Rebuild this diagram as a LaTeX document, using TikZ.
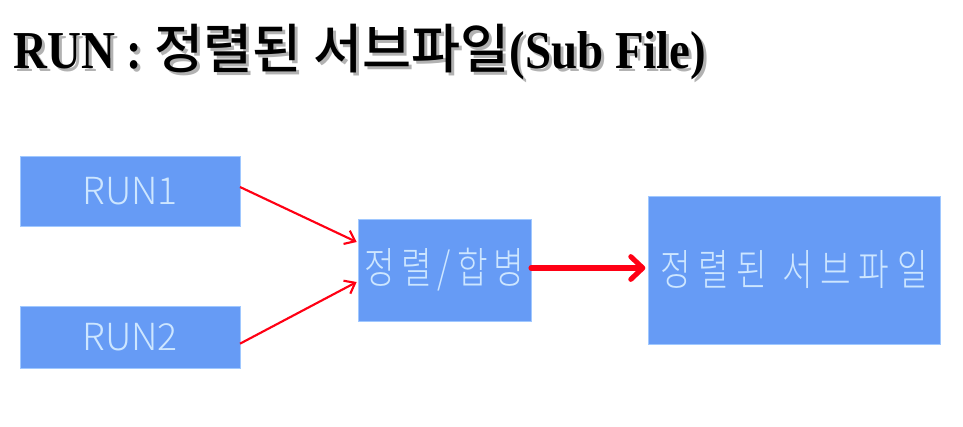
\documentclass[tikz,border=0pt]{standalone}
\usepackage{fontspec}
\setmainfont{Liberation Serif}
\newfontfamily\ttl[FakeStretch=0.88]{Liberation Serif}
\newfontfamily\krt{Noto Sans CJK KR Medium}
\newfontfamily\krbox[FakeStretch=0.78, LetterSpace=18]{Noto Sans CJK KR Light}
\newfontfamily\krboxm[FakeStretch=0.78, LetterSpace=14]{Noto Sans CJK KR Light}
\newfontfamily\latbox{Noto Sans CJK KR Light}
\usetikzlibrary{arrows.meta}
\definecolor{boxfill}{RGB}{102,155,245}
\definecolor{boxedge}{RGB}{160,200,255}
\definecolor{boxtext}{RGB}{205,230,255}
\definecolor{arrred}{RGB}{255,0,20}
\tikzset{
  blockbox/.style={draw=boxedge, line width=0.6pt, fill=boxfill, text=boxtext,
    inner sep=0pt, outer sep=0pt},
  latintext/.style={font=\latbox\fontsize{28}{32}\selectfont},
  hangultext/.style={font=\krbox\fontsize{32}{36}\selectfont},
  hangulmerge/.style={font=\krboxm\fontsize{32}{36}\selectfont},
  thinarrow/.style={draw=arrred, line width=1.6pt, -{Straight Barb[length=7pt,width=11pt,line width=1.6pt]}},
  thickarrow/.style={draw=arrred, line width=3.8pt, line cap=round, -{Straight Barb[length=9pt,width=17pt,line width=3.8pt,round]}},
  titletext/.style={font=\ttl\bfseries\fontsize{40}{44}\selectfont, anchor=base west, inner sep=0pt}
}
\begin{document}
\begin{tikzpicture}[x=0.75pt,y=-0.75pt]
\useasboundingbox (0,0) rectangle (963,426);
% title with shadow
\node[titletext, text=black!30] (titleshadow) at (16,71) {RUN : {\krt\mdseries 정렬된 서브파일}(Sub File)};
\node[titletext, text=black] (title) at (13,68) {RUN : {\krt\mdseries 정렬된 서브파일}(Sub File)};
% boxes
\node[blockbox, latintext, minimum width=220*0.75pt, minimum height=70*0.75pt] (r1) at (130,191) {RUN1};
\node[blockbox, latintext, minimum width=220*0.75pt, minimum height=62*0.75pt] (r2) at (130,337) {RUN2};
\node[blockbox, hangulmerge, minimum width=173*0.75pt, minimum height=102*0.75pt] (m) at (444.5,270) {정렬/합병};
\node[blockbox, hangultext, minimum width=292*0.75pt, minimum height=148*0.75pt] (f) at (794,270) {정렬된 서브파일};
% connectors
\draw[thinarrow] ([yshift=3pt]r1.east) -- ([yshift=21pt,xshift=-1pt]m.west);
\draw[thinarrow] ([yshift=-5pt]r2.east) -- ([yshift=-9pt,xshift=-1pt]m.west);
\draw[thickarrow] ([yshift=1.5pt]m.east) -- ([yshift=1.5pt,xshift=-2pt]f.west);
\end{tikzpicture}
\end{document}
